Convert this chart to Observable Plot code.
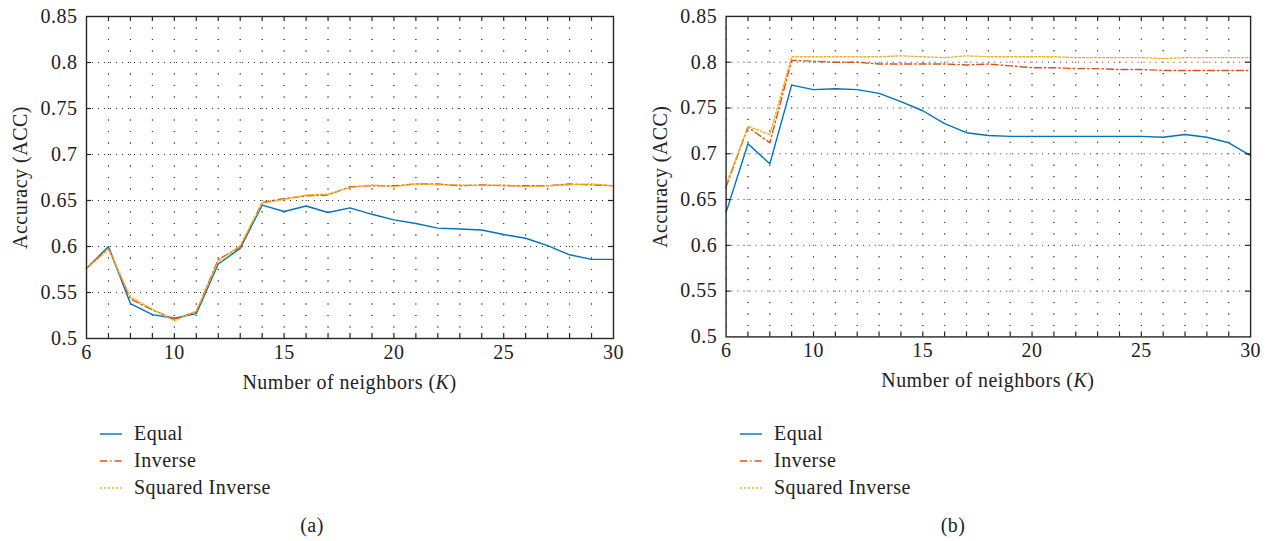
<!DOCTYPE html>
<html>
<head>
<meta charset="utf-8">
<script src="https://cdn.jsdelivr.net/npm/d3@7"></script>
<script src="https://cdn.jsdelivr.net/npm/@observablehq/plot@0.6"></script>
<style>
  html, body { margin: 0; padding: 0; background: #fff; }
  body { width: 1273px; height: 541px; position: relative; overflow: hidden; font-family: "Liberation Serif", "DejaVu Serif", serif; color: #222; }
  .panel { position: absolute; top: 0; }
  .legend { position: absolute; }
  .cap { position: absolute; font-size: 20px; letter-spacing: 0.4px; transform: translateX(-50%); }
</style>
</head>
<body>
<div id="pa" class="panel" style="left:0px"></div>
<div id="pb" class="panel" style="left:640px"></div>
<div id="la" class="legend" style="left:98px; top:420px"></div>
<div id="lb" class="legend" style="left:738px; top:420px"></div>
<div class="cap" style="left:312px; top:514px">(a)</div>
<div class="cap" style="left:953px; top:514px">(b)</div>
<script>
// ---------- data ----------
const K = [6,7,8,9,10,11,12,13,14,15,16,17,18,19,20,21,22,23,24,25,26,27,28,29,30];
const seriesNames = ["Equal", "Inverse", "Squared Inverse"];

const equalA   = [0.576,0.600,0.538,0.526,0.522,0.527,0.581,0.598,0.645,0.638,0.644,0.637,0.642,0.635,0.629,0.625,0.620,0.619,0.618,0.613,0.609,0.601,0.591,0.586,0.586];
const inverseA = [0.576,0.598,0.543,0.531,0.521,0.529,0.586,0.599,0.648,0.652,0.655,0.656,0.665,0.666,0.666,0.668,0.668,0.666,0.667,0.666,0.666,0.666,0.668,0.667,0.666];
const sqInvA   = [0.576,0.597,0.545,0.532,0.519,0.530,0.584,0.601,0.647,0.651,0.656,0.657,0.664,0.667,0.665,0.668,0.667,0.667,0.666,0.667,0.665,0.666,0.667,0.668,0.666];

const equalB   = [0.636,0.711,0.689,0.775,0.770,0.771,0.770,0.766,0.757,0.747,0.733,0.723,0.720,0.719,0.719,0.719,0.719,0.719,0.719,0.719,0.718,0.721,0.718,0.712,0.698];
const inverseB = [0.664,0.729,0.712,0.802,0.801,0.800,0.800,0.798,0.798,0.798,0.798,0.797,0.798,0.796,0.794,0.794,0.793,0.793,0.792,0.792,0.791,0.791,0.791,0.791,0.791];
const sqInvB   = [0.666,0.730,0.721,0.806,0.806,0.806,0.806,0.806,0.807,0.806,0.805,0.807,0.806,0.806,0.806,0.806,0.805,0.805,0.805,0.805,0.804,0.805,0.805,0.805,0.805];

const xTickLabels = [6,10,15,20,25,30];
const yTickLabels = [0.5,0.55,0.6,0.65,0.7,0.75,0.8,0.85];

// ---------- styles ----------
const colors = ["#0072BD", "#D95319", "#EDB120"];
const dashes = [null, "7,3,1.5,3", "2,2"];
const xLabel = "Number of neighbors (";
const yLabel = "Accuracy (ACC)";
const FONT = "'Liberation Serif', 'DejaVu Serif', serif";

const W = 636, H = 400, mL = 86, mR = 23, mT = 16, mB = 62;
const xStep = (W - mL - mR) / 24;
const yStep = (H - mT - mB) / 28;
const xMinorGrid = K.slice(1, -1);
const yMinorGrid = d3.range(1, 28).map(i => 0.5 + i * 0.0125).filter((v, i) => (i + 1) % 4 !== 0);
const yMajorGrid = yTickLabels.slice(1, -1);
const pxX = 5 * 24 / (W - mL - mR);
const pxY = 5 * 0.35 / (H - mT - mB);

function forceFont(sel) {
  sel.style("font-family", FONT).style("font-size", "20px").style("letter-spacing", "0.5px");
}

function chart(values) {
  const rows = [];
  values.forEach((arr, s) => arr.forEach((v, i) => rows.push({k: K[i], v, s})));
  const marks = [
    Plot.ruleY(yMinorGrid, {stroke: "#333", strokeWidth: 1, strokeDasharray: `1,${xStep - 1}`}),
    Plot.ruleY(yMajorGrid, {stroke: "#333", strokeWidth: 1, strokeDasharray: "1,5"}),
    Plot.ruleX(xMinorGrid, {stroke: "#333", strokeWidth: 1, strokeDasharray: `1,${yStep - 1}`}),
  ];
  [0, 1, 2].forEach(s => {
    marks.push(Plot.line(rows.filter(d => d.s === s), {
      x: "k", y: "v", stroke: colors[s], strokeWidth: 1.4,
      strokeDasharray: dashes[s] || undefined
    }));
  });
  marks.push(
    Plot.ruleX(xMinorGrid, {y1: 0.5, y2: 0.5 + pxY, stroke: "#262626", strokeWidth: 1.2}),
    Plot.ruleX(xMinorGrid, {y1: 0.85, y2: 0.85 - pxY, stroke: "#262626", strokeWidth: 1.2}),
    Plot.ruleY(yMajorGrid, {x1: 6, x2: 6 + pxX, stroke: "#262626", strokeWidth: 1.2}),
    Plot.ruleY(yMajorGrid, {x1: 30, x2: 30 - pxX, stroke: "#262626", strokeWidth: 1.2}),
    Plot.frame({stroke: "#262626", strokeWidth: 1.4}),
    Plot.axisX({ticks: xTickLabels, tickSize: 0, tickPadding: 6, tickFormat: d => String(d), fill: "#222"}),
    Plot.axisY({ticks: yTickLabels, tickSize: 0, tickPadding: 9, tickFormat: d3.format("~g"), fill: "#222"}),
    Plot.text([yLabel], {frameAnchor: "left", textAnchor: "middle", rotate: -90, dx: -66, text: d => d, fill: "#222", fontSize: 20})
  );
  const svg = Plot.plot({
    width: W, height: H,
    marginLeft: mL, marginRight: mR, marginTop: mT, marginBottom: mB,
    x: {domain: [6, 30], label: null},
    y: {domain: [0.5, 0.85], label: null},
    style: {fontFamily: FONT, fontSize: "20px", background: "#fff", color: "#222", overflow: "visible"},
    marks
  });
  const t = d3.select(svg).append("text")
    .attr("x", (mL + W - mR) / 2).attr("y", 389)
    .attr("text-anchor", "middle").attr("fill", "#222");
  t.append("tspan").text(xLabel);
  t.append("tspan").attr("font-style", "italic").text("K");
  t.append("tspan").text(")");
  forceFont(d3.select(svg).selectAll("text"));
  return svg;
}

function legend() {
  const svg = d3.create("svg").attr("width", 260).attr("height", 86);
  seriesNames.forEach((name, i) => {
    const y = 14 + i * 27;
    const ln = svg.append("line").attr("x1", 2).attr("x2", 24).attr("y1", y).attr("y2", y)
      .attr("stroke", colors[i]).attr("stroke-width", 1.4);
    if (dashes[i]) ln.attr("stroke-dasharray", dashes[i]);
    svg.append("text").attr("x", 36).attr("y", y + 6).attr("fill", "#222").text(name);
  });
  forceFont(svg.selectAll("text"));
  return svg.node();
}

document.getElementById("pa").appendChild(chart([equalA, inverseA, sqInvA]));
document.getElementById("pb").appendChild(chart([equalB, inverseB, sqInvB]));
document.getElementById("la").appendChild(legend());
document.getElementById("lb").appendChild(legend());
</script>
</body>
</html>
